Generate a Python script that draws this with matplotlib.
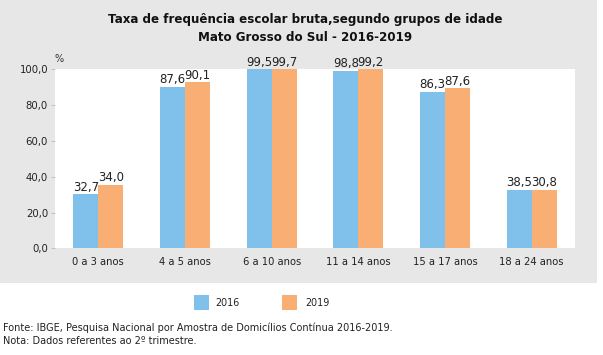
import matplotlib
matplotlib.use("Agg")
import matplotlib.pyplot as plt
from matplotlib.patches import Rectangle
import numpy as np

categories = ["0 a 3 anos", "4 a 5 anos", "6 a 10 anos", "11 a 14 anos", "15 a 17 anos", "18 a 24 anos"]
series_names = ["2016", "2019"]
# bar heights as drawn in the picture
heights_2016 = [30.2, 90.3, 100.0, 99.2, 87.5, 32.6]
heights_2019 = [35.4, 92.7, 100.0, 100.0, 89.4, 32.6]
# value labels as printed
labels_2016 = ["32,7", "87,6", "99,5", "98,8", "86,3", "38,5"]
labels_2019 = ["34,0", "90,1", "99,7", "99,2", "87,6", "30,8"]
yticks = [0, 20, 40, 60, 80, 100]
ytick_labels = ["0,0", "20,0", "40,0", "60,0", "80,0", "100,0"]

c16 = "#7fc1ea"
c19 = "#f9ae74"
bg = "#e7e7e7"

fig = plt.figure(figsize=(6.03, 3.55), dpi=100)
fig.patch.set_facecolor("white")
fig.patches.append(Rectangle((0, 0.203), 0.99, 0.797, transform=fig.transFigure,
                             facecolor=bg, edgecolor="none", zorder=-10))

ax = fig.add_axes([0.0912, 0.3006, 0.8624, 0.504])
ax.set_facecolor("white")
x = np.arange(len(categories))
w = 0.287
b1 = ax.bar(x - w / 2, heights_2016, w, color=c16, label=series_names[0])
b2 = ax.bar(x + w / 2, heights_2019, w, color=c19, label=series_names[1])
for bars, labs in ((b1, labels_2016), (b2, labels_2019)):
    for r, t in zip(bars, labs):
        ax.text(r.get_x() + r.get_width() / 2, r.get_height() + 0.3, t,
                ha="center", va="bottom", fontsize=8.5, color="#222222")

ax.set_xlim(-0.5, len(categories) - 0.5)
ax.set_ylim(0, 100)
ax.set_yticks(yticks)
ax.set_yticklabels(ytick_labels, fontsize=7.3, color="#222222")
ax.set_xticks(x)
ax.set_xticklabels(categories, fontsize=7.2, color="#222222")
ax.tick_params(axis="x", length=0, pad=6)
ax.tick_params(axis="y", length=3, width=0.6, color="#bbbbbb", pad=2)
for s in ax.spines.values():
    s.set_visible(False)
ax.text(0.0, 1.03, "%", transform=ax.transAxes, fontsize=7, color="#333333",
        ha="left", va="bottom")

fig.text(0.506, 0.944, "Taxa de frequência escolar bruta,segundo grupos de idade",
         ha="center", va="center", fontsize=8.6, fontweight="bold", color="#111111")
fig.text(0.506, 0.895, "Mato Grosso do Sul - 2016-2019",
         ha="center", va="center", fontsize=8.6, fontweight="bold", color="#111111")

# legend
fig.patches.append(Rectangle((194 / 603, 1 - 310 / 355), 15 / 603, 15 / 355,
                             transform=fig.transFigure, facecolor=c16, edgecolor="none"))
fig.text(215 / 603, 1 - 303 / 355, series_names[0], fontsize=6.9, va="center", ha="left",
         color="#222222", family="DejaVu Sans Condensed")
fig.patches.append(Rectangle((282 / 603, 1 - 310 / 355), 15 / 603, 15 / 355,
                             transform=fig.transFigure, facecolor=c19, edgecolor="none"))
fig.text(305 / 603, 1 - 303 / 355, series_names[1], fontsize=6.9, va="center", ha="left",
         color="#222222", family="DejaVu Sans Condensed")

fig.text(3 / 603, 1 - 328 / 355,
         "Fonte: IBGE, Pesquisa Nacional por Amostra de Domicílios Contínua 2016-2019.",
         fontsize=7.05, va="center", ha="left", color="#222222", family="DejaVu Sans Condensed")
fig.text(3 / 603, 1 - 341 / 355, "Nota: Dados referentes ao 2º trimestre.",
         fontsize=7.05, va="center", ha="left", color="#222222", family="DejaVu Sans Condensed")

fig.savefig("out.png", dpi=100)
